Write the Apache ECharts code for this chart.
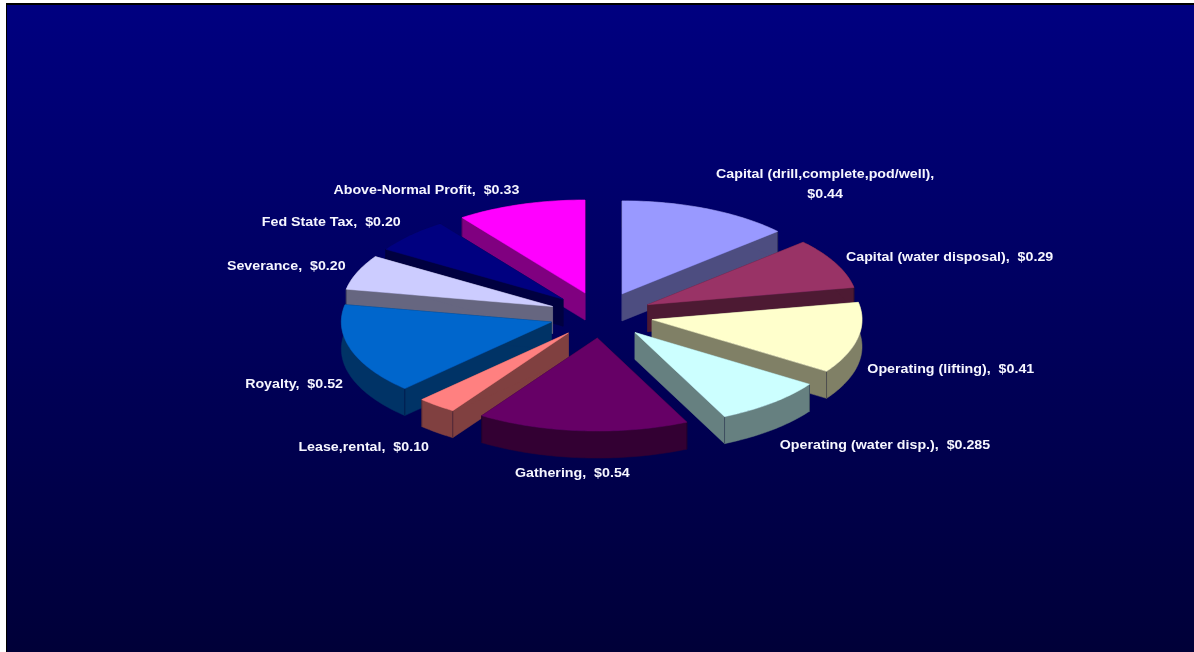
<!DOCTYPE html>
<html>
<head>
<meta charset="utf-8">
<title>Per-unit cost and profit breakdown</title>
<style>
  html, body { margin: 0; padding: 0; background: #fff; }
  #chart { position: absolute; left: 0; top: 0; width: 1194px; height: 652px; }
</style>
<script src="https://cdn.jsdelivr.net/npm/echarts@6/dist/echarts.min.js"></script>
</head>
<body>
<div id="chart"></div>
<script>
// Slices run clockwise from twelve o'clock.
const sliceNames = [
  'Capital (drill,complete,pod/well)',
  'Capital (water disposal)',
  'Operating (lifting)',
  'Operating (water disp.)',
  'Gathering',
  'Lease,rental',
  'Royalty',
  'Severance',
  'Fed State Tax',
  'Above-Normal Profit'
];
const sliceValues = [0.44, 0.29, 0.41, 0.285, 0.54, 0.10, 0.52, 0.20, 0.20, 0.33];
const sliceColors = [
  '#9999ff', '#993366', '#ffffcc', '#ccffff', '#660066',
  '#ff8080', '#0066cc', '#ccccff', '#000080', '#ff00ff'
];
const wrappedNames = ['Capital (drill,complete,pod/well)'];

// Label placement relative to the middle of each slice's rim.
const labelNudges = [
  [118, -24], [114, -6], [93, 31], [113, 42], [-10, 43],
  [-73, 42], [-57, 34], [-71, -6], [-79, -13], [-94, -14]
];

// Pie projection: a flat disc tilted away from the viewer.
const PIE_CENTER = [601, 315];
const PIE_RADIUS = 210;
const TILT = 0.443;
const THICKNESS = 27;
const EXPLODE = 0.248; // fraction of the radius

const total = sliceValues.reduce((a, b) => a + b, 0);

function halfShade(hex) {
  const n = parseInt(hex.slice(1), 16);
  const half = (c) => Math.round(c / 2);
  return `rgb(${half((n >> 16) & 255)},${half((n >> 8) & 255)},${half(n & 255)})`;
}

function priceText(v) {
  const decimals = (String(v).split('.')[1] || '').length;
  return '$' + v.toFixed(Math.max(2, decimals));
}

function labelText(i) {
  const gap = wrappedNames.includes(sliceNames[i]) ? ',\n' : ',  ';
  return sliceNames[i] + gap + priceText(sliceValues[i]);
}

// Cumulative extents on the angle axis, listed back-to-front for painting.
let running = 0;
const slices = sliceValues.map((v, i) => {
  const start = running;
  running += v;
  return { start, end: running, index: i };
});
const paintOrder = slices.slice().sort((a, b) => {
  const depth = (s) => Math.cos(((s.start + s.end) / 2 / total) * 2 * Math.PI);
  return depth(b) - depth(a);
});

function renderSlice(params, api) {
  const start = api.value(0);
  const end = api.value(1);
  const i = api.value(2);
  const mid = (start + end) / 2;

  // Polar coordinates flattened onto the tilted disc.
  const flatten = (p) => [
    p[0],
    PIE_CENTER[1] + (p[1] - PIE_CENTER[1]) * TILT
  ];
  const onDisc = (r, v) => flatten(api.coord([r, v]));
  const offset = onDisc(EXPLODE, mid);
  const shift = [offset[0] - PIE_CENTER[0], offset[1] - PIE_CENTER[1]];
  const point = (r, v) => {
    const p = onDisc(r, v);
    return [p[0] + shift[0], p[1] + shift[1]];
  };
  const down = (p) => [p[0], p[1] + THICKNESS];

  const steps = Math.max(6, Math.ceil(((end - start) / total) * 360));
  const arc = [];
  for (let s = 0; s <= steps; s++) {
    arc.push(point(1, start + ((end - start) * s) / steps));
  }
  const apex = point(0, start);
  const first = arc[0];
  const last = arc[arc.length - 1];

  const top = sliceColors[i];
  const side = halfShade(top);
  const wall = (pts) => ({
    type: 'polygon',
    shape: { points: pts },
    style: { fill: side, stroke: side, lineWidth: 0.5 }
  });
  const seam = (p) => ({
    type: 'line',
    shape: { x1: p[0], y1: p[1], x2: p[0], y2: p[1] + THICKNESS },
    style: { stroke: 'rgba(0,0,40,0.35)', lineWidth: 1 }
  });

  const rimBand = arc.concat(arc.slice().reverse().map(down));
  const children = [
    wall([apex, first, down(first), down(apex)]),
    wall([apex, last, down(last), down(apex)]),
    wall(rimBand),
    seam(first),
    seam(last),
    {
      type: 'polygon',
      shape: { points: [apex].concat(arc) },
      style: { fill: top, stroke: top, lineWidth: 0.5 }
    }
  ];

  const rimMid = point(1, mid);
  const nudge = labelNudges[i];
  children.push({
    type: 'text',
    z2: 100,
    x: rimMid[0] + nudge[0],
    y: rimMid[1] + nudge[1],
    scaleX: 1.095,
    style: {
      text: labelText(i),
      fill: '#f6f6ff',
      font: 'bold 13px "Liberation Sans", Arial, sans-serif',
      align: 'center',
      verticalAlign: 'middle',
      lineHeight: 20
    }
  });
  return { type: 'group', children };
}

const chart = echarts.init(document.getElementById('chart'), null, { renderer: 'canvas' });
chart.setOption({
  animation: false,
  backgroundColor: '#ffffff',
  tooltip: { show: false },
  graphic: [
    {
      type: 'rect',
      z: -2,
      silent: true,
      shape: { x: 6, y: 3, width: 1188, height: 649 },
      style: { fill: '#000000' }
    },
    {
      type: 'rect',
      z: -1,
      silent: true,
      shape: { x: 7, y: 5, width: 1187, height: 647 },
      style: {
        fill: new echarts.graphic.LinearGradient(0, 0, 0, 1, [
          { offset: 0, color: '#000080' },
          { offset: 1, color: '#000038' }
        ])
      }
    }
  ],
  polar: { center: PIE_CENTER, radius: PIE_RADIUS },
  angleAxis: { type: 'value', min: 0, max: total, startAngle: 90, clockwise: true, show: false },
  radiusAxis: { type: 'value', min: 0, max: 1, show: false },
  series: [{
    type: 'custom',
    coordinateSystem: 'polar',
    silent: true,
    renderItem: renderSlice,
    data: paintOrder.map((s) => [s.start, s.end, s.index])
  }]
});
</script>
</body>
</html>
